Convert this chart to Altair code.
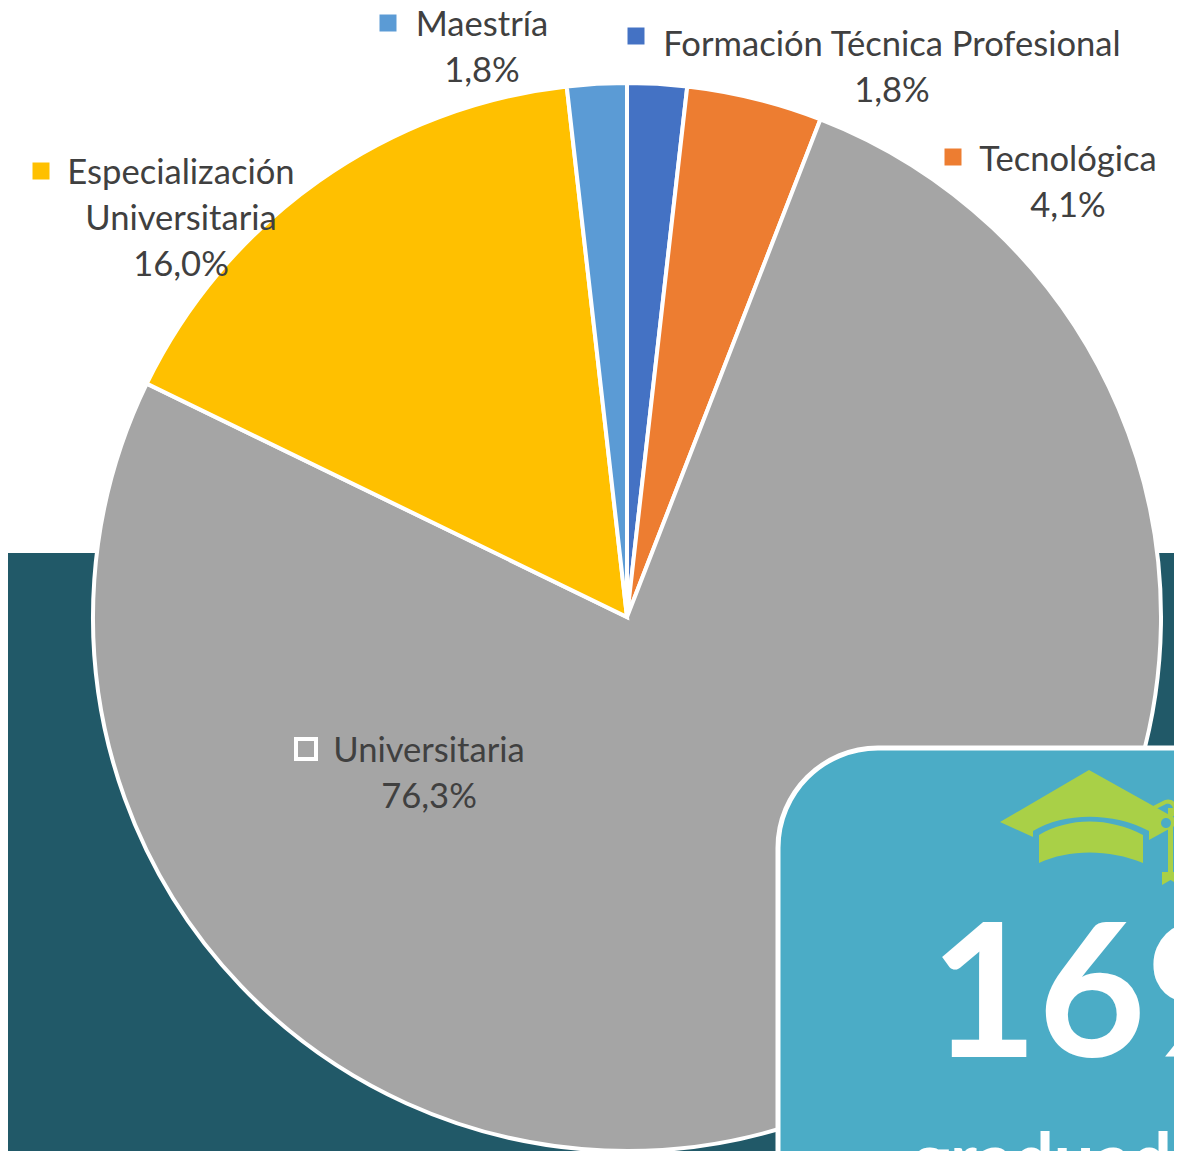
import altair as alt
import pandas as pd

categories = ["Formación Técnica Profesional", "Tecnológica", "Universitaria",
              "Especialización Universitaria", "Maestría"]
values = [1.8, 4.1, 76.3, 16.0, 1.8]
colors = ["#4472C4", "#ED7D31", "#A5A5A5", "#FFC000", "#5B9BD5"]
big_number = "169"
big_caption = "graduados"

OFF = 8  # page margin: reference pixels -> chart pixels
FONT = "Lato"
df = pd.DataFrame({"cat": categories, "val": values, "ord": list(range(len(values)))})
one = alt.Data(values=[{"a": 1}])


def px(v):
    return alt.value(v - OFF)


def label(text, x, y, size=34.6, color="#404040", weight="normal", align="center"):
    return alt.Chart(one).mark_text(text=text, font=FONT, fontSize=size, color=color,
                                    fontWeight=weight, align=align, baseline="alphabetic"
                                    ).encode(x=px(x), y=px(y))


def square(x, y, color, size=289, stroke=None, sw=0):
    kw = dict(stroke=stroke, strokeWidth=sw) if stroke else dict(strokeWidth=0)
    return alt.Chart(one).mark_point(shape="square", filled=True, fill=color, size=size,
                                     opacity=1, **kw).encode(x=px(x), y=px(y))


def shape(path, x, y, fill):
    return alt.Chart(one).mark_point(shape=path, filled=True, fill=fill, size=4, opacity=1,
                                     strokeWidth=0).encode(x=px(x), y=px(y))


band = alt.Chart(one).mark_rect(color="#215968").encode(
    x=alt.value(0), x2=alt.value(1166), y=px(553), y2=alt.value(1143))

pie = alt.Chart(df).mark_arc(outerRadius=534, stroke="white", strokeWidth=4).encode(
    theta=alt.Theta("val:Q", stack=True, scale=alt.Scale(domain=[0, 100])),
    order=alt.Order("ord:Q"),
    color=alt.Color("cat:N", scale=alt.Scale(domain=categories, range=colors), legend=None),
    x=px(627), y=px(617))

card = alt.Chart(one).mark_rect(fill="#4BACC6", stroke="white", strokeWidth=5, cornerRadius=100).encode(
    x=px(778), x2=px(1500), y=px(748), y2=px(1500))

CAP_TOP = ("M0,-50 L93,2 L60,20 L60,11 C25,-8 -25,-8 -56,11 L-56,17 L-89,2 Z")
CAP_BAND = ("M-50,15 C-20,-3 20,-3 54,15 L54,43 C20,29 -20,29 -50,43 Z")
TASSEL = ("M79,-12 L84,-12 L84,52 L90,52 L90,65 L81.5,60 L73,65 L73,52 L79,52 Z")
LOOP = ("M64,-14 L76,-20 C82,-22 88,-18 88,-11 L88,-4 L84,-4 L84,-11 C84,-15 80,-17 77,-16 L67,-11 Z")
HOLE = ("M72,3 A5,5 0 1 1 82,3 A5,5 0 1 1 72,3 Z")

layers = [
    band, pie, card,
    shape(CAP_TOP, 1089, 820, "#A9D047"),
    shape(CAP_BAND, 1089, 820, "#A9D047"),
    shape(TASSEL, 1089, 820, "#A9D047"),
    shape(LOOP, 1089, 820, "#A9D047"),
    shape(HOLE, 1089, 820, "#4BACC6"),
    square(388, 23, colors[4]),
    square(636, 36, colors[0]),
    square(953, 157, colors[1]),
    square(41, 171, colors[3]),
    square(306, 749, colors[2], size=400, stroke="white", sw=4),
    label(categories[4], 482, 36), label("1,8%", 482, 82),
    label(categories[0], 892, 56), label("1,8%", 892, 102),
    label(categories[1], 1068, 171), label("4,1%", 1068, 217),
    label("Especialización", 181, 184), label("Universitaria", 181, 230), label("16,0%", 181, 276),
    label(categories[2], 429, 762), label("76,3%", 429, 808),
    label(big_number, 930, 1057, size=186, color="white", weight="bold", align="left"),
    label(big_caption, 912, 1185, size=72, color="white", weight="bold", align="left"),
]

chart = alt.layer(*layers).properties(
    width=1166, height=1143, padding=0,
    autosize=alt.AutoSizeParams(type="none")).configure_view(stroke=None)
chart.save("out.html", embed_options={"renderer": "svg", "actions": False})
